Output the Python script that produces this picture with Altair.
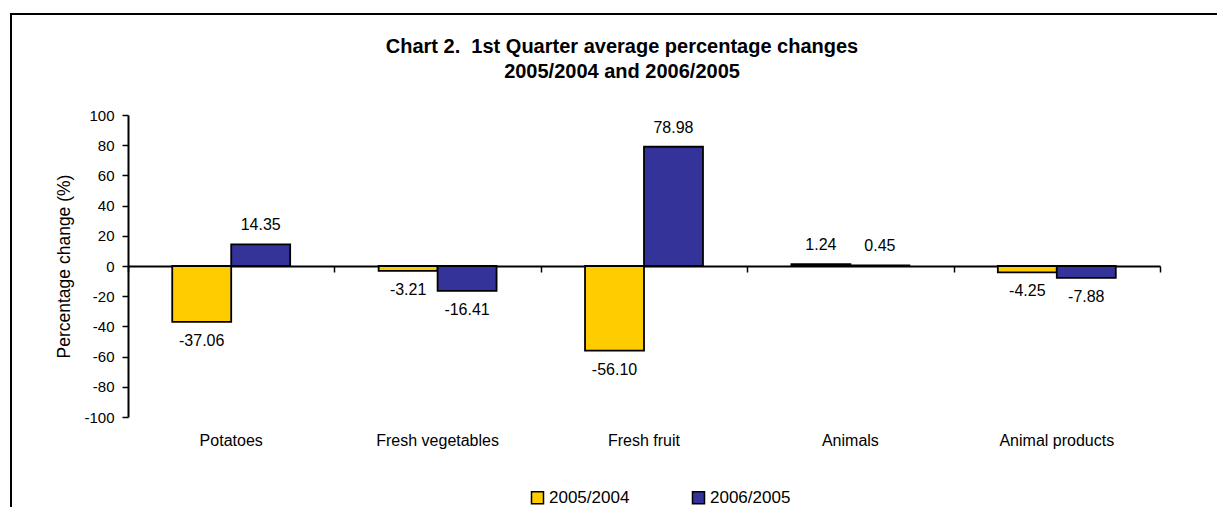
import altair as alt
import pandas as pd

categories = ["Potatoes", "Fresh vegetables", "Fresh fruit", "Animals", "Animal products"]
series_names = ["2005/2004", "2006/2005"]
values_2005_2004 = [-37.06, -3.21, -56.10, 1.24, -4.25]
values_2006_2005 = [14.35, -16.41, 78.98, 0.45, -7.88]
colors = ["#FFCC00", "#333399"]

rows = []
for i, c in enumerate(categories):
    for s, vals in zip(series_names, [values_2005_2004, values_2006_2005]):
        rows.append({"cat": c, "series": s, "value": vals[i], "label": f"{vals[i]:.2f}"})
df = pd.DataFrame(rows)

W, H = 1032, 302
FONT = "Liberation Sans"

xscale = alt.Scale(paddingInner=0, paddingOuter=0)
xoff = alt.XOffset("series:N", sort=series_names, scale=alt.Scale(paddingOuter=0.75, paddingInner=0))
yscale = alt.Scale(domain=[-100, 100], nice=False)

label_axis = alt.Axis(orient="bottom", domain=False, ticks=False, tickSize=0, labelFontSize=16,
                      labelFont=FONT, labelColor="black", labelPadding=23, labelBaseline="middle",
                      labelAngle=0, title=None, grid=False)
tick_axis = alt.Axis(orient="bottom", offset=-H / 2, labels=False, title=None, grid=False,
                     domain=True, domainColor="black", domainWidth=2, ticks=True, tickBand="extent",
                     tickSize=6, tickColor="black", tickWidth=1.5)
y_axis = alt.Axis(values=list(range(-100, 101, 20)), labelExpr="toString(datum.value)",
                  labelFontSize=15, labelFont=FONT, labelColor="black",
                  tickSize=6, tickColor="black", tickWidth=1.5, domainColor="black", domainWidth=2,
                  labelPadding=8, title="Percentage change (%)", titleFontSize=17.5, titleFont=FONT,
                  titleFontWeight="normal", titleColor="black", titleX=-55, titleY=H / 2,
                  titleAngle=270, titleBaseline="bottom", titleAlign="center", grid=False)

frame = alt.Chart(alt.Data(values=[{"a": 1}])).mark_rect(filled=False, stroke="black", strokeWidth=2).encode(
    x=alt.value(-117), y=alt.value(-101), x2=alt.value(W + 100), y2=alt.value(H + 120)
)

base = alt.Chart(df)

bars = base.mark_bar(stroke="black", strokeWidth=1.8).encode(
    x=alt.X("cat:N", sort=categories, scale=xscale, axis=label_axis),
    xOffset=xoff,
    y=alt.Y("value:Q", scale=yscale, axis=y_axis),
    color=alt.Color("series:N", sort=series_names, scale=alt.Scale(domain=series_names, range=colors),
                    legend=alt.Legend(orient="none", legendX=401, legendY=374, direction="horizontal",
                                      title=None, symbolType="square", symbolSize=144,
                                      symbolStrokeColor="black", symbolStrokeWidth=1.5,
                                      labelFontSize=17, labelFont=FONT, labelColor="black",
                                      labelOffset=3, columnPadding=59)),
)

pos_text = base.transform_filter("datum.value >= 0").mark_text(
    fontSize=16, font=FONT, color="black", dy=-19, baseline="middle"
).encode(
    x=alt.X("cat:N", sort=categories, scale=xscale, axis=tick_axis),
    xOffset=xoff,
    y=alt.Y("value:Q", scale=yscale, axis=y_axis),
    text="label:N",
)

neg_text = base.transform_filter("datum.value < 0").mark_text(
    fontSize=16, font=FONT, color="black", dy=19, baseline="middle"
).encode(
    x=alt.X("cat:N", sort=categories, scale=xscale, axis=None),
    xOffset=xoff,
    y=alt.Y("value:Q", scale=yscale, axis=y_axis),
    text="label:N",
)

chart = alt.layer(frame, bars, pos_text, neg_text).resolve_axis(x="independent").properties(
    width=W,
    height=H,
    autosize=alt.AutoSizeParams(type="none"),
    padding={"left": 120, "top": 107, "right": 57, "bottom": 90},
    title=alt.TitleParams(
        ["Chart 2.\u00a0 1st Quarter average percentage changes", "2005/2004 and 2006/2005"],
        fontSize=20, fontWeight="bold", font=FONT, color="black", anchor="middle",
        dx=-22, offset=-69, lineHeight=25,
    ),
).configure_view(stroke=None)

chart.save("out.html", embed_options={"renderer": "svg", "actions": False})
